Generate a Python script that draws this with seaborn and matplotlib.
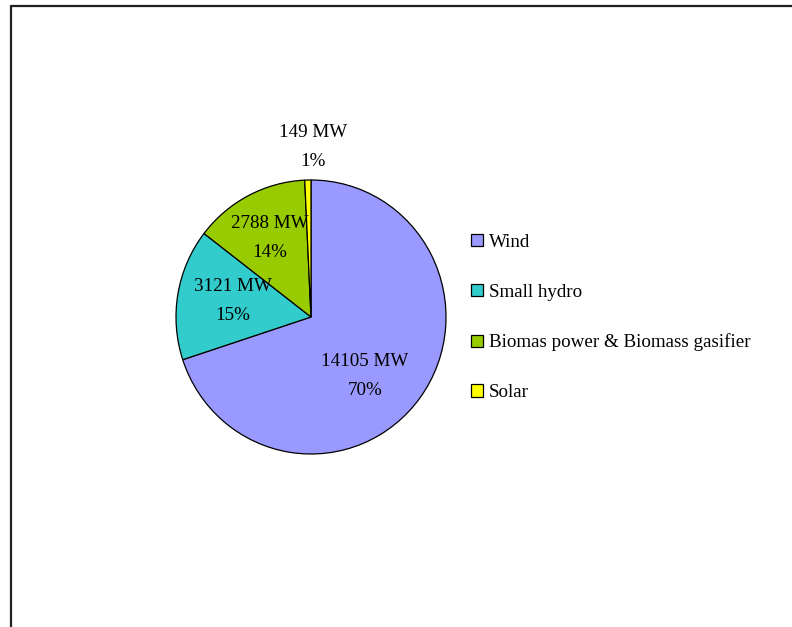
import matplotlib
matplotlib.use("Agg")
import matplotlib.pyplot as plt
from matplotlib.lines import Line2D
import seaborn as sns

# ---- data ----
categories = ["Wind", "Small hydro", "Biomas power & Biomass gasifier", "Solar"]
capacity_mw = [14105, 3121, 2788, 149]
colors = ["#9999FF", "#33CCCC", "#99CC00", "#FFFF00"]

sns.set_theme(style="white")
plt.rcParams["font.family"] = ["Liberation Serif", "DejaVu Serif"]
plt.rcParams["text.color"] = "black"

W, H = 792, 627
fig = plt.figure(figsize=(W / 100, H / 100), dpi=100)
fig.patch.set_facecolor("white")

# pie axes (center ~ (311,317) px, radius ~ 135 px)
cx, cy, rx, ry = 311, 317, 135, 137
ax = fig.add_axes([(cx - rx) / W, (H - cy - ry) / H, 2 * rx / W, 2 * ry / H])
wedges, _ = ax.pie(capacity_mw, colors=colors, startangle=90, counterclock=False,
                   radius=1.0, wedgeprops=dict(edgecolor="black", linewidth=0.9))
ax.set_xlim(-1, 1)
ax.set_ylim(-1, 1)
ax.set_aspect("auto")
ax.axis("off")

FS = 13.7

# data labels (positions as fraction of radius, Excel-like placement)
total = sum(capacity_mw)
label_offsets = [(54 / rx, -59 / ry), (-78 / rx, 16 / ry), (-41 / rx, 79 / ry), (2 / rx, 170 / ry)]
for v, (lx, ly) in zip(capacity_mw, label_offsets):
    pct = round(100 * v / total)
    ax.text(lx, ly, f"{v} MW\n{pct}%", ha="center", va="center", fontsize=FS,
            linespacing=1.85, color="black", clip_on=False)

# legend
leg = fig.legend(wedges, categories, loc="center left",
                 bbox_to_anchor=(471 / W, 1 - 317.5 / H), bbox_transform=fig.transFigure,
                 frameon=False, fontsize=FS, handlelength=0.62, handleheight=0.62,
                 handletextpad=0.33, labelspacing=1.73, borderpad=0, borderaxespad=0)
for t in leg.get_texts():
    t.set_color("black")

# chart border (left and top visible)
fig.add_artist(Line2D([10.5 / W, 10.5 / W], [0, 1 - 6 / H], transform=fig.transFigure,
                      color="#222222", linewidth=1.6))
fig.add_artist(Line2D([10.5 / W, 1.0], [1 - 6 / H, 1 - 6 / H], transform=fig.transFigure,
                      color="#222222", linewidth=1.6))

fig.savefig("out.png", dpi=100, facecolor="white")
